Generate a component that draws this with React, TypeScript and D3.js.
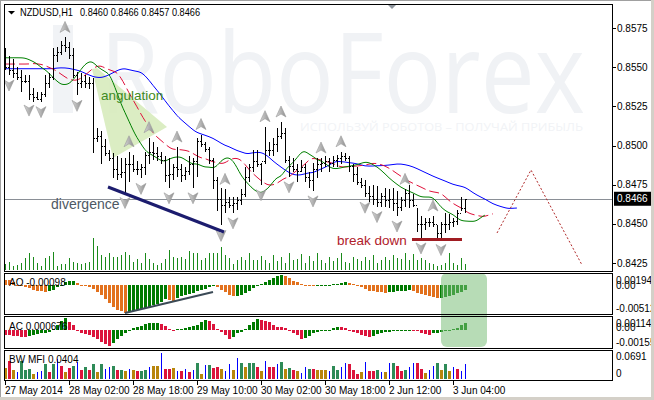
import * as d3 from 'd3'

// NZDUSD H1, 27 May 10:00 .. 3 Jun 07:00 (116 bars)
const highs = [
  0.8562, 0.8557, 0.8555, 0.855, 0.8548, 0.8545, 0.8545, 0.8537, 0.8534, 0.8534,
  0.8545, 0.8546, 0.8562, 0.8563, 0.8567, 0.8569, 0.8566, 0.8562, 0.8547, 0.8546,
  0.8545, 0.8544, 0.8543, 0.8511, 0.8509, 0.8504, 0.8497, 0.8495, 0.8493, 0.8492,
  0.8492, 0.8496, 0.8494, 0.849, 0.8488, 0.8496, 0.8505, 0.8502, 0.8499, 0.8496,
  0.8493, 0.8492, 0.8488, 0.8499, 0.8488, 0.8486, 0.8493, 0.8492, 0.8505, 0.8507,
  0.8502, 0.8499, 0.8492, 0.848, 0.8473, 0.8472, 0.8467, 0.8467, 0.8467, 0.8472,
  0.8486, 0.8488, 0.8497, 0.8497, 0.8489, 0.8512, 0.8502, 0.8505, 0.8511, 0.8515,
  0.8511, 0.8493, 0.8492, 0.8488, 0.8491, 0.8488, 0.8483, 0.8489, 0.8492, 0.8492,
  0.8493, 0.8492, 0.8493, 0.8494, 0.8496, 0.8495, 0.8493, 0.8488, 0.8486, 0.8479,
  0.8478, 0.8474, 0.8475, 0.8474, 0.847, 0.8473, 0.8472, 0.8473, 0.8471, 0.8467,
  0.8472, 0.8475, 0.8469, 0.846, 0.8455, 0.8454, 0.8454, 0.8455, 0.8449, 0.8451,
  0.8457, 0.8456, 0.8454, 0.8459, 0.8467, 0.8466,
]
const lows = [
  0.8548, 0.8545, 0.8543, 0.8542, 0.8534, 0.854, 0.8529, 0.8528, 0.8529, 0.8528,
  0.8531, 0.8537, 0.8542, 0.8553, 0.8558, 0.856, 0.8555, 0.8543, 0.8532, 0.8537,
  0.8537, 0.8536, 0.8495, 0.8502, 0.8488, 0.8493, 0.849, 0.8479, 0.8478, 0.8479,
  0.847, 0.8477, 0.8483, 0.8481, 0.8479, 0.8481, 0.8488, 0.8491, 0.849, 0.8488,
  0.8477, 0.8473, 0.8478, 0.848, 0.8477, 0.8478, 0.8481, 0.8473, 0.848, 0.8499,
  0.8496, 0.8488, 0.8472, 0.8458, 0.8449, 0.8457, 0.846, 0.8457, 0.8459, 0.8462,
  0.8467, 0.8477, 0.8483, 0.8486, 0.8475, 0.8488, 0.8493, 0.8493, 0.8496, 0.8504,
  0.8489, 0.848, 0.8483, 0.8477, 0.8483, 0.8477, 0.8473, 0.8471, 0.8479, 0.8483,
  0.8486, 0.8483, 0.8486, 0.8486, 0.8488, 0.849, 0.8483, 0.8477, 0.8475, 0.8473,
  0.8467, 0.8464, 0.8462, 0.8461, 0.8461, 0.8461, 0.846, 0.8458, 0.8455, 0.8458,
  0.8461, 0.846, 0.8461, 0.8445, 0.8441, 0.8446, 0.8448, 0.8448, 0.8441, 0.844,
  0.8444, 0.8446, 0.8448, 0.8449, 0.8458, 0.8457,
]
const closes = [
  0.855, 0.8548, 0.8546, 0.8544, 0.8541, 0.8541, 0.8533, 0.8531, 0.853, 0.8533,
  0.854, 0.8544, 0.8558, 0.856, 0.8564, 0.8563, 0.8558, 0.8545, 0.854, 0.8541,
  0.854, 0.854, 0.8505, 0.8506, 0.85, 0.8495, 0.8492, 0.8485, 0.8482, 0.8483,
  0.8488, 0.8488, 0.8485, 0.8485, 0.8486, 0.8494, 0.8496, 0.8495, 0.8493, 0.8491,
  0.8481, 0.8482, 0.8486, 0.8485, 0.8481, 0.8484, 0.8488, 0.849, 0.8503, 0.8501,
  0.8498, 0.8491, 0.8478, 0.8466, 0.8462, 0.8464, 0.8462, 0.8463, 0.8465, 0.8469,
  0.848, 0.8486, 0.849, 0.8488, 0.849, 0.8497, 0.8497, 0.8501, 0.8506, 0.8508,
  0.8491, 0.8487, 0.8485, 0.8484, 0.8486, 0.848, 0.8478, 0.8485, 0.8488, 0.8489,
  0.849, 0.8489, 0.8491, 0.8492, 0.8493, 0.8492, 0.8487, 0.8482, 0.8477, 0.8475,
  0.847, 0.8468, 0.8466, 0.8464, 0.8468, 0.8465, 0.8466, 0.8463, 0.8461, 0.8465,
  0.847, 0.8465, 0.8462, 0.845, 0.845, 0.8451, 0.8451, 0.845, 0.8444, 0.845,
  0.845, 0.8451, 0.8452, 0.8457, 0.846, 0.8466,
]
const firstOpen = 0.8555

// bar indexes carrying a Bill Williams fractal
const fractalUpBars = [15, 31, 36, 43, 49, 55, 65, 69, 79, 84, 100, 107]
const fractalDownBars = [1, 6, 9, 18, 30, 34, 41, 47, 54, 57, 64, 71, 77, 90, 93, 98, 104, 109]

const volumes = [
  600, 830, 400, 500, 670, 1170, 1730, 1330, 670, 400,
  1170, 1400, 1770, 400, 570, 600, 1230, 830, 670, 600,
  670, 830, 3170, 2400, 1500, 1270, 1730, 1330, 1330, 1500,
  1830, 1500, 830, 1070, 670, 1670, 1070, 730, 500, 670,
  1070, 2000, 1330, 1230, 1330, 1070, 1900, 1670, 1670, 1000,
  1170, 1670, 1730, 1670, 2230, 1500, 1230, 600, 1000, 1270,
  1000, 1670, 1000, 1000, 1400, 1000, 670, 1500, 900, 1330,
  730, 1670, 1000, 1070, 1600, 730, 1400, 900, 1670, 1000,
  730, 1270, 900, 1170, 1670, 830, 670, 1330, 1070, 930,
  1330, 1000, 1530, 730, 1000, 1330, 1000, 1500, 1230, 1070,
  1670, 1000, 1570, 1000, 1170, 1000, 670, 600, 400, 500,
  670, 1730, 730, 500, 1230, 600,
]

const aoValues = [
  0.0009, 0.00078, 0.00048, 0.0, -0.00018, -0.00036, -0.0006, -0.0009, -0.00109, -0.00121,
  -0.00133, -0.00121, -0.0009, -0.00048, -0.00012, 0.00048, 0.0006, 0.00062, 0.0003, -0.00005,
  -0.00012, -0.00036, -0.00072, -0.00133, -0.00193, -0.00253, -0.00332, -0.0041, -0.00452, -0.00482,
  -0.00512, -0.005, -0.00482, -0.00464, -0.0044, -0.00422, -0.00404, -0.00374, -0.0035, -0.00314,
  -0.00265, -0.00277, -0.00289, -0.00247, -0.00211, -0.00181, -0.00163, -0.00145, -0.00121, -0.00096,
  -0.00072, -0.00048, -0.0003, -0.00048, -0.0009, -0.00133, -0.00181, -0.00211, -0.00199, -0.00181,
  -0.00151, -0.00109, -0.0006, -0.00018, 0.00012, 0.00048, 0.00078, 0.00115, 0.0015, 0.0018,
  0.00165, 0.0013, 0.00072, 0.00042, 0.00018, 0.0, -0.00012, -0.00018, -0.00012, -0.00006,
  -0.00004, 0.00001, 0.00006, 0.00018, 0.0003, 0.00042, 0.0003, 0.00018, -0.00012, -0.00048,
  -0.00084, -0.00109, -0.00121, -0.00133, -0.00139, -0.00145, -0.00133, -0.00127, -0.00121, -0.00115,
  -0.00109, -0.00103, -0.00115, -0.00145, -0.00169, -0.00193, -0.00211, -0.00229, -0.00247, -0.00235,
  -0.00223, -0.00211, -0.00187, -0.00157, -0.00127, -0.00098,
]

const acValues = [
  -0.00048, -0.00048, -0.00055, -0.00058, -0.00064, -0.00066, -0.00055, -0.00048, -0.00042, -0.00032,
  -0.00026, -0.00016, 0.0001, 0.00048, 0.00087, 0.001146, 0.0008, 0.00048, -0.00003, -0.00026,
  -0.00039, -0.00048, -0.00064, -0.00087, -0.00112, -0.00135, -0.00155, -0.00128, -0.00087, -0.00055,
  -0.00032, 0.00002, 0.00022, 0.00032, 0.00042, 0.00055, 0.00064, 0.00066, 0.00071, 0.00055,
  0.00035, 0.00006, -0.00006, 0.00006, 0.0001, 0.00016, 0.00029, 0.00035, 0.00048, 0.0008,
  0.00096, 0.00087, 0.00055, 0.0001, -0.00016, -0.00048, -0.00087, -0.00064, -0.00032, -0.00016,
  0.0001, 0.00048, 0.0008, 0.00103, 0.00096, 0.00087, 0.00074, 0.00048, 0.00032, 0.00029,
  0.00016, 0.0, -0.00026, -0.00048, -0.00087, -0.00074, -0.00055, -0.00032, -0.00016, -0.00006,
  -0.00003, 0.00003, 0.00016, 0.00029, 0.00026, 0.00022, 0.0, -0.00016, -0.00032, -0.00048,
  -0.00058, -0.00067, -0.00055, -0.00042, -0.00032, -0.00022, -0.00016, -0.0001, -0.00006, -0.00003,
  0.0, 0.00003, 0.0, -0.0001, -0.00026, -0.00039, -0.00048, -0.00032, -0.00026, -0.00016,
  -0.0001, 0.0, 0.0001, 0.00022, 0.00048, 0.000676,
]

const mfiValues = [
  0.03, 0.049, 0.024, 0.018, 0.049, 0.024, 0.027, 0.013, 0.018, 0.022,
  0.04, 0.018, 0.04, 0.053, 0.035, 0.018, 0.029, 0.035, 0.044, 0.024,
  0.031, 0.024, 0.04, 0.018, 0.04, 0.027, 0.031, 0.035, 0.024, 0.024,
  0.022, 0.027, 0.024, 0.02, 0.02, 0.024, 0.031, 0.035, 0.035, 0.0691,
  0.027, 0.027, 0.029, 0.022, 0.022, 0.027, 0.018, 0.024, 0.043, 0.013,
  0.038, 0.038, 0.029, 0.031, 0.027, 0.022, 0.04, 0.024, 0.055, 0.042,
  0.031, 0.042, 0.042, 0.031, 0.022, 0.047, 0.031, 0.031, 0.04, 0.044,
  0.027, 0.029, 0.024, 0.02, 0.015, 0.031, 0.027, 0.027, 0.024, 0.024,
  0.024, 0.022, 0.035, 0.024, 0.031, 0.042, 0.04, 0.024, 0.013, 0.018,
  0.044, 0.02, 0.02, 0.024, 0.018, 0.018, 0.042, 0.042, 0.035, 0.022,
  0.024, 0.031, 0.043, 0.042, 0.027, 0.015, 0.024, 0.035, 0.042, 0.024,
  0.04, 0.022, 0.031, 0.027, 0.022, 0.0404,
]
// g = green, r = squat, y = fade, b = fake
const mfiZones = (
  'yrybgggybb' + 'grgbryrgbr' + 'grgygbbgrg' + 'ybyrggbyyb' + 'rrybrbrbgy' +
  'bgrrybbybg' + 'yggrybrrbg' + 'ygrybbgryy' + 'ybggbbrrry' + 'brrgbybgrr' +
  'gbbrrybbgy' + 'gybrbb'
).split('')

const timeLabels = ['27 May 2014', '28 May 02:00', '28 May 18:00', '29 May 10:00', '30 May 02:00', '30 May 18:00', '2 Jun 12:00', '3 Jun 04:00']
const priceTicks = [0.8575, 0.855, 0.8525, 0.85, 0.8475, 0.845, 0.8425]
const lastPrice = 0.8466

const AXF = "'Liberation Sans', Arial, sans-serif"
const PL = 4
const PR = 612
const N = closes.length

const zoneColor: Record<string, string> = { g: '#2e8b57', r: '#dc143c', y: '#b8860b', b: '#0000ff' }

function smma(src: number[], period: number, seed: number) {
  const out: number[] = []
  let v = seed
  for (const s of src) {
    v = (v * (period - 1) + s) / period
    out.push(v)
  }
  return out
}

function fractalPath(cx: number, cy: number, up: boolean) {
  const s = up ? 1 : -1
  return `M${cx},${cy - 6 * s} L${cx + 5},${cy + 5 * s} L${cx},${cy + 2 * s} L${cx - 5},${cy + 5 * s} Z`
}

export default function App() {
  const x = d3.scaleLinear().domain([0, N - 1]).range([5, 465])
  const yP = d3.scaleLinear().domain([0.8425, 0.8575]).range([263, 28])
  const yV = d3.scaleLinear().domain([0, d3.max(volumes) || 1]).range([270, 238])
  const yAO = d3.scaleLinear().domain([-0.00512, 0.00194]).range([313, 274])
  const yAC = d3.scaleLinear().domain([-0.00155, 0.001146]).range([346, 318])
  const yMFI = d3.scaleLinear().domain([0, 0.0691]).range([379, 353])

  const opens = closes.map((_, i) => (i === 0 ? firstOpen : closes[i - 1]))
  const median = highs.map((h, i) => (h + lows[i]) / 2)

  const alligator = [
    { period: 13, shift: 13, seed: 0.8549, color: '#0000ff', dash: undefined },
    { period: 8, shift: 7, seed: 0.8552, color: '#e0103a', dash: '10,4' },
    { period: 5, shift: 5, seed: 0.8556, color: '#008000', dash: undefined },
  ].map(a => {
    const vals = smma(median, a.period, a.seed)
    const pts: [number, number][] = []
    for (let k = 0; k < N + a.shift; k++) pts.push([k, k < a.shift ? a.seed : vals[k - a.shift]])
    const line = d3.line<[number, number]>().x(d => x(d[0])).y(d => yP(d[1])).curve(d3.curveBasis)
    return { ...a, d: line(pts) || '' }
  })

  const panelRect = (top: number, bottom: number) => (
    <rect x={PL + 0.5} y={top + 0.5} width={PR - PL} height={bottom - top} fill="none" stroke="#000" />
  )

  return (
    <svg width={654} height={400} style={{ position: 'absolute', left: 0, top: 0, background: '#fff' }}>
      <defs>
        <clipPath id="mainClip"><rect x={PL + 1} y={5} width={PR - PL - 1} height={266} /></clipPath>
        <clipPath id="winClip"><rect x={0} y={0} width={651} height={397} /></clipPath>
        <linearGradient id="frUp" x1="0" x2="1" y1="0" y2="0">
          <stop offset="0" stopColor="#d6d6d6" />
          <stop offset="0.5" stopColor="#b2b2b2" />
          <stop offset="1" stopColor="#8e8e8e" />
        </linearGradient>
      </defs>
      <rect x={0} y={0} width={654} height={400} fill="#fff" />

      {/* watermark */}
      <g clipPath="url(#mainClip)">
        <rect x={53} y={25} width={20} height={88} fill="#f1f3f6" />
        <text x={100} y={113} fontFamily="'Open Sans', Arial, sans-serif" fontSize={112} fill="#f0f2f5" textLength={485} lengthAdjust="spacingAndGlyphs">RoboForex</text>
        <text x={300} y={131} fontFamily="'Open Sans', Arial, sans-serif" fontSize={11} fill="#f1f3f6" textLength={283} lengthAdjust="spacingAndGlyphs">ИСПОЛЬЗУЙ РОБОТОВ – ПОЛУЧАЙ ПРИБЫЛЬ</text>
      </g>

      <g clipPath="url(#mainClip)">
        {/* angulation wedge */}
        <polygon points="92,69 97,68 167,127 113,158" fill="#d7ebbd" opacity={0.9} />

        {/* volumes */}
        {volumes.map((v, i) => (
          <rect key={'v' + i} x={Math.round(x(i))} y={yV(v)} width={1} height={270 - yV(v)} fill="#1a8a1a" shapeRendering="crispEdges" />
        ))}

        {/* last price line */}
        <line x1={PL} x2={PR} y1={Math.round(yP(lastPrice)) + 0.5} y2={Math.round(yP(lastPrice)) + 0.5} stroke="#8a8f96" />

        {/* alligator */}
        {alligator.map(a => (
          <path key={a.color} d={a.d} fill="none" stroke={a.color} strokeWidth={1} strokeDasharray={a.dash} />
        ))}

        {/* OHLC bars */}
        {closes.map((c, i) => {
          const xi = Math.round(x(i))
          const yh = Math.round(yP(highs[i]))
          const yl = Math.round(yP(lows[i]))
          return (
            <g key={'b' + i} fill="#000" shapeRendering="crispEdges">
              <rect x={xi} y={yh} width={1} height={Math.max(1, yl - yh)} />
              <rect x={xi - 1} y={Math.round(yP(opens[i]))} width={1} height={1} />
              <rect x={xi + 1} y={Math.round(yP(c))} width={1} height={1} />
            </g>
          )
        })}

        {/* fractals */}
        {fractalUpBars.map(i => (
          <path key={'u' + i} d={fractalPath(x(i), yP(highs[i]) - 10, true)} fill="url(#frUp)" stroke="#9a9a9a" strokeWidth={0.6} />
        ))}
        {fractalDownBars.map(i => (
          <path key={'d' + i} d={fractalPath(x(i), yP(lows[i]) + 10, false)} fill="url(#frUp)" stroke="#9a9a9a" strokeWidth={0.6} />
        ))}

        {/* annotations */}
        <text x={101} y={100} fontFamily={AXF} fontSize={13.5} fill="#3f8a22">angulation</text>
        <line x1={108} y1={187} x2={224} y2={232} stroke="#1c1c6e" strokeWidth={3} />
        <text x={51} y={209} fontFamily={AXF} fontSize={14} fill="#4d5864">divergence</text>
        <line x1={412} y1={239.5} x2={462} y2={239.5} stroke="#a01c22" strokeWidth={3} />
        <text x={337} y={245} fontFamily={AXF} fontSize={13.5} fill="#b0202a">break down</text>
        <polyline points="497,233 531,170 582,265" fill="none" stroke="#b02a2a" strokeWidth={1} strokeDasharray="2,2" />
      </g>

      {/* header */}
      <path d="M8,11 L15,11 L11.5,14.5 Z" fill="#000" />
      <text x={20} y={16} fontFamily={AXF} fontSize={10.5} fill="#000" textLength={53} lengthAdjust="spacingAndGlyphs">NZDUSD,H1</text>
      <text x={80} y={16} fontFamily={AXF} fontSize={10} fill="#000" textLength={120} lengthAdjust="spacingAndGlyphs">0.8460 0.8466 0.8457 0.8466</text>
      <path d="M388,5 L396,5 L392,9 Z" fill="#8f969e" />

      {/* AO panel */}
      {aoValues.map((v, i) => {
        const up = i === 0 ? false : v > aoValues[i - 1]
        const y0 = yAO(0)
        const y1 = yAO(v)
        return <rect key={'ao' + i} x={Math.round(x(i)) - 1} y={Math.min(y0, y1)} width={3} height={Math.max(1, Math.abs(y1 - y0))} fill={up ? '#007a00' : '#e2711d'} shapeRendering="crispEdges" />
      })}
      <line x1={125} y1={313} x2={213} y2={292} stroke="#3b4a56" strokeWidth={2} />
      <text x={9} y={286} fontFamily={AXF} fontSize={10} fill="#000">AO -0.00098</text>

      {/* AC panel */}
      {acValues.map((v, i) => {
        const up = i === 0 ? false : v > acValues[i - 1]
        const y0 = yAC(0)
        const y1 = yAC(v)
        return <rect key={'ac' + i} x={Math.round(x(i)) - 1} y={Math.min(y0, y1)} width={3} height={Math.max(1, Math.abs(y1 - y0))} fill={up ? '#007a00' : '#dc143c'} shapeRendering="crispEdges" />
      })}
      <text x={9} y={330} fontFamily={AXF} fontSize={10} fill="#000">AC 0.000676</text>

      {/* green highlight */}
      <rect x={441} y={273} width={46} height={74} rx={6} fill="#7cc07a" opacity={0.55} />

      {/* MFI panel */}
      {mfiValues.map((v, i) => {
        const z = mfiZones[i]
        const xi = Math.round(x(i))
        return <rect key={'m' + i} x={z === 'b' ? xi : xi - 1} y={yMFI(v)} width={z === 'b' ? 1 : 3} height={379 - yMFI(v)} fill={zoneColor[z]} shapeRendering="crispEdges" />
      })}
      <text x={9} y={363} fontFamily={AXF} fontSize={10} fill="#000">BW MFI 0.0404</text>

      {/* frames */}
      {panelRect(4, 271)}
      {panelRect(273, 314)}
      {panelRect(316, 348)}
      {panelRect(350, 380)}

      {/* price axis */}
      <g clipPath="url(#winClip)" fontFamily={AXF} fontSize={10} fill="#000">
        {priceTicks.map(p => (
          <g key={p}>
            <line x1={PR} x2={PR + 4} y1={Math.round(yP(p)) + 0.5} y2={Math.round(yP(p)) + 0.5} stroke="#000" />
            <text x={617} y={yP(p) + 3.5}>{p.toFixed(4)}</text>
          </g>
        ))}
        <rect x={614} y={yP(lastPrice) - 7} width={40} height={14} fill="#000" />
        <text x={617} y={yP(lastPrice) + 3.5} fill="#fff">{lastPrice.toFixed(4)}</text>

        <text x={616} y={yAO(0.00194) + 10}>0.00194</text>
        <text x={616} y={yAO(0) + 4}>0.00</text>
        <text x={616} y={yAO(-0.00512) - 1}>-0.00512</text>

        <text x={616} y={yAC(0.001146) + 9}>0.001146</text>
        <text x={616} y={yAC(0) + 1}>0.00</text>
        <text x={616} y={yAC(-0.00155) - 0.5}>-0.00155</text>

        <text x={616} y={yMFI(0.0691) + 7}>0.0691</text>
        <text x={616} y={yMFI(0) - 2}>0</text>
      </g>

      {/* time axis */}
      <g fontFamily={AXF} fontSize={10} fill="#000">
        {timeLabels.map((t, k) => {
          const xi = Math.round(x(k * 16))
          return (
            <g key={t}>
              <line x1={xi + 0.5} x2={xi + 0.5} y1={380} y2={385} stroke="#000" />
              <text x={xi} y={394}>{t}</text>
            </g>
          )
        })}
      </g>

      {/* window border */}
      <rect x={0.5} y={0.5} width={652} height={398} fill="none" stroke="#a0a0a0" />
      <rect x={651} y={0} width={3} height={400} fill="#d4d0c8" />
      <rect x={0} y={397} width={654} height={3} fill="#d4d0c8" />
    </svg>
  )
}
